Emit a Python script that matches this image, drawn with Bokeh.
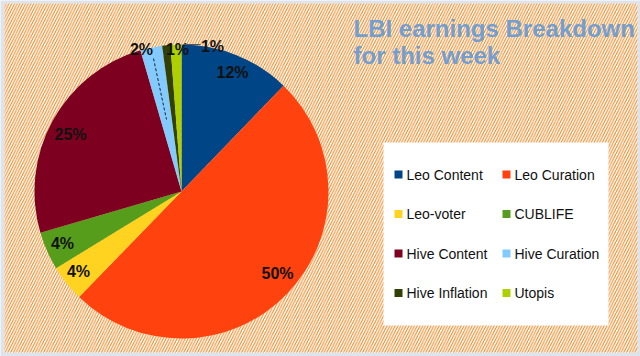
import math
from bokeh.plotting import figure
from bokeh.models import Range1d, ColumnDataSource
from bokeh.core.properties import value
from bokeh.embed import file_html
from bokeh.resources import INLINE

# ---- data ----
categories = ["Leo Content", "Leo Curation", "Leo-voter", "CUBLIFE",
              "Hive Content", "Hive Curation", "Hive Inflation", "Utopis"]
shares = [12.2, 50.0, 4.0, 4.2, 25.0, 2.4, 0.9, 1.2]
colors = ["#004586", "#ff420e", "#ffd320", "#579d1c",
          "#7e0021", "#83caff", "#314004", "#aecf00"]
title_lines = ["LBI earnings Breakdown", "for this week"]

# ---- layout (page pixel coords; y converted to data) ----
W, H = 640, 356
def Y(py):
    return H - py

CX, CY, R = 181, Y(191), 147
# label placement per slice (page px), as laid out in the original
label_px = [232, 277, 78, 62, 70, 141, 177, 212]
label_py = [72, 273, 271, 243, 134, 49, 49, 46]

p = figure(width=W, height=H, output_backend="svg", toolbar_location=None,
           x_range=Range1d(0, W), y_range=Range1d(0, H),
           min_border=0, border_fill_color="white", outline_line_color=None)
p.axis.visible = False
p.xgrid.visible = False
p.ygrid.visible = False
p.background_fill_color = "#dee4ec"

# hatched background
p.quad(left=[4], right=[637], bottom=[Y(352)], top=[Y(3)], fill_color="white",
       line_color=None, hatch_pattern="/", hatch_color="#f08218",
       hatch_scale=5.5, hatch_weight=1.0, hatch_alpha=1.0)

# pie
total = sum(shares)
starts, ends = [], []
cum = 0.0
for s in shares:
    a0 = math.pi / 2 - 2 * math.pi * cum / total
    cum += s
    a1 = math.pi / 2 - 2 * math.pi * cum / total
    starts.append(a0)
    ends.append(a1)

src = ColumnDataSource(dict(start=starts, end=ends, color=colors, cat=categories))
p.wedge(x=CX, y=CY, radius=R, start_angle="start", end_angle="end",
        direction="clock", fill_color="color", line_color=None, source=src)

# percentage labels
pct = ["%d%%" % round(s / total * 100) for s in shares]
p.text(x=label_px, y=[Y(v) for v in label_py], text=pct,
       text_align="center", text_baseline="middle",
       text_font=value("Liberation Sans"), text_font_size="16px",
       text_font_style="bold", text_color="#111111")

# leader lines
p.line(x=[153, 166], y=[Y(58), Y(119)], line_color="#222222", line_width=1,
       line_dash="3 2")
p.line(x=[183, 200], y=[Y(44), Y(44)], line_color="#555555", line_width=1)

# title
p.text(x=[353, 353], y=[Y(27.5), Y(54.5)], text=title_lines,
       text_align="left", text_baseline="middle",
       text_font=value("Liberation Sans"), text_font_size="24px",
       text_font_style="bold", text_color="#729fcf")

# legend box
p.quad(left=[383], right=[608], bottom=[Y(325)], top=[Y(142)],
       fill_color="white", line_color=None)

col_sq = [398, 506]
col_tx = [406, 514]
row_c = [174, 213.5, 253, 292.5]
sqx, sqy, tx, ty = [], [], [], []
for i in range(len(categories)):
    r_, c_ = divmod(i, 2)
    sqx.append(col_sq[c_])
    sqy.append(Y(row_c[r_]))
    tx.append(col_tx[c_])
    ty.append(Y(row_c[r_]))
p.rect(x=sqx, y=sqy, width=8, height=8, fill_color=colors, line_color=None)
p.text(x=tx, y=ty, text=categories, text_align="left", text_baseline="middle",
       text_font=value("Liberation Sans"), text_font_size="14px",
       text_color="#111111")

open("out.html", "w").write(file_html(p, INLINE))
